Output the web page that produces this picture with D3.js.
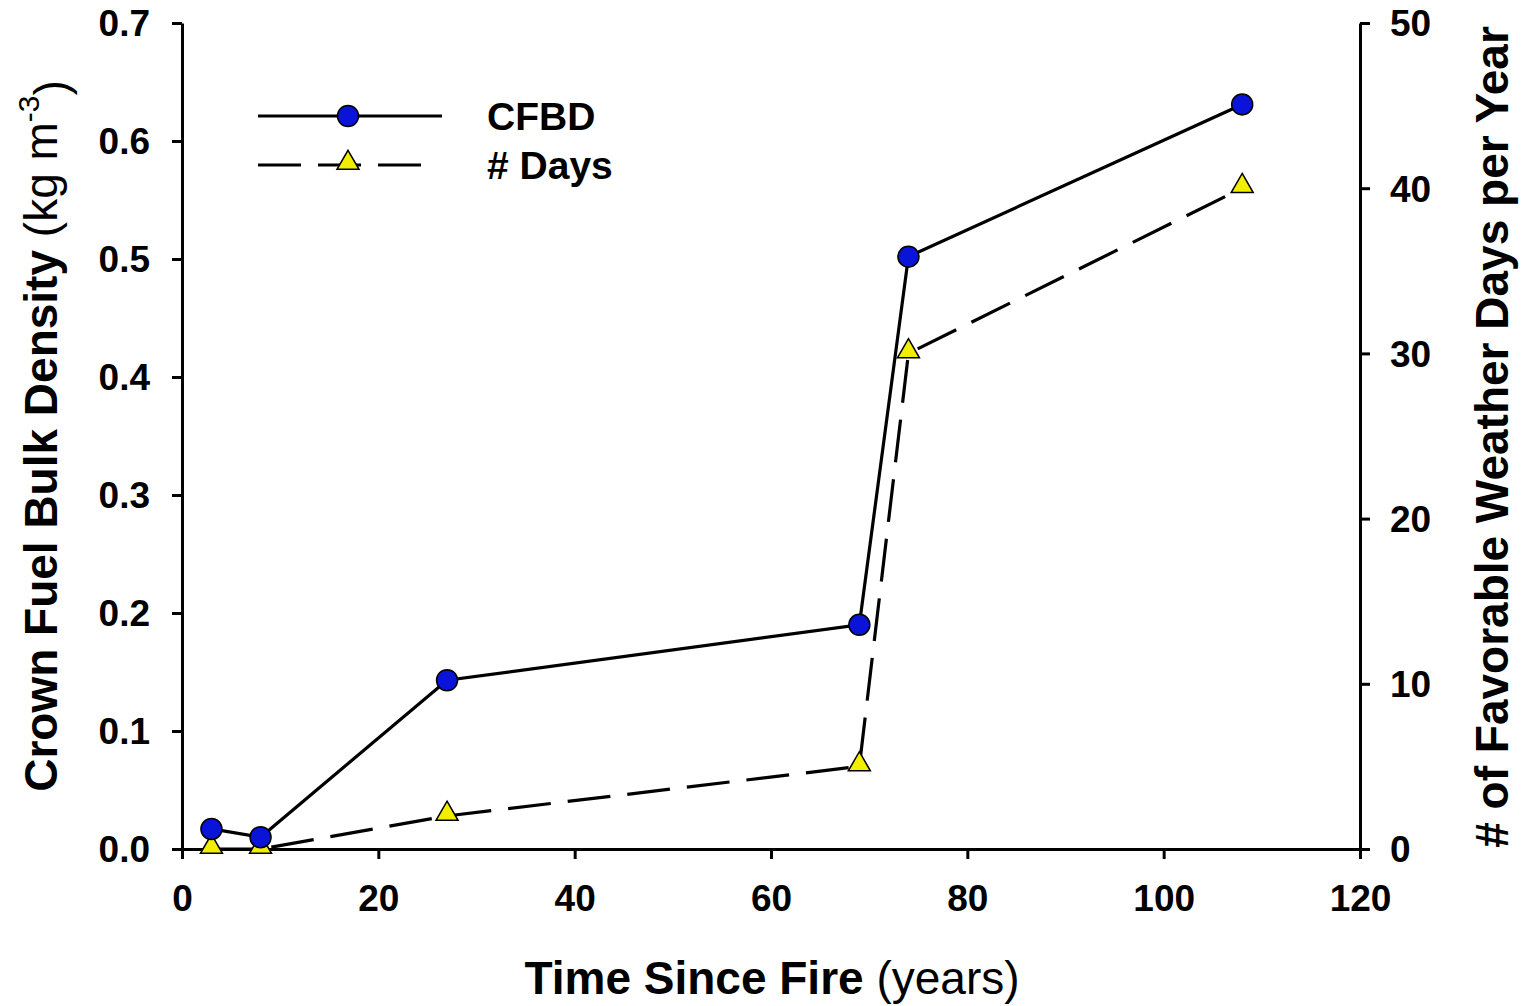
<!DOCTYPE html>
<html>
<head>
<meta charset="utf-8">
<script src="https://cdn.jsdelivr.net/npm/d3@7"></script>
<style>
  html, body { margin: 0; padding: 0; background: #fff; }
  svg { display: block; }
  text { font-family: "Liberation Sans", Arial, sans-serif; fill: #000; }
</style>
</head>
<body>
<script>
// Time since fire (years) for each sampled stand
const years = [3, 8, 27, 69, 74, 108];
// Crown fuel bulk density, kg m^-3
const cfbd = [0.017, 0.010, 0.143, 0.190, 0.502, 0.631];
// Number of favorable weather days per year
const favDays = [0, 0, 2, 5, 30, 40];

const xTicks = [0, 20, 40, 60, 80, 100, 120];
const leftTicks = [0.0, 0.1, 0.2, 0.3, 0.4, 0.5, 0.6, 0.7];
const rightTicks = [0, 10, 20, 30, 40, 50];

const W = 1524, H = 1006;
const margin = { left: 182, right: W - 1360, top: 23, bottom: H - 849 };

const svg = d3.select("body").append("svg")
  .attr("width", W).attr("height", H);

const x = d3.scaleLinear().domain([0, 120]).range([margin.left, W - margin.right]);
const yL = d3.scaleLinear().domain([0, 0.7]).range([H - margin.bottom, margin.top]);
const yR = d3.scaleLinear().domain([0, 50]).range([H - margin.bottom, margin.top]);

const tickFont = "37px";
const titleFont = "46px";

function styleAxis(g) {
  g.selectAll("path").attr("stroke", "#000").attr("stroke-width", 3);
  g.selectAll("line").attr("stroke", "#000").attr("stroke-width", 3);
  g.selectAll("text")
    .style("font-size", tickFont)
    .style("font-weight", "bold")
    .attr("fill", "#000");
}

// Bottom axis
const gx = svg.append("g")
  .attr("transform", `translate(0,${H - margin.bottom})`)
  .call(d3.axisBottom(x).tickValues(xTicks).tickSize(10).tickPadding(26).tickSizeOuter(0)
    .tickFormat(d3.format("d")));
styleAxis(gx);

// Left axis
const gl = svg.append("g")
  .attr("transform", `translate(${margin.left},0)`)
  .call(d3.axisLeft(yL).tickValues(leftTicks).tickSize(10).tickPadding(22).tickSizeOuter(0)
    .tickFormat(d3.format(".1f")));
styleAxis(gl);
gl.selectAll(".tick text").attr("dy", "0.35em");

// Right axis
const gr = svg.append("g")
  .attr("transform", `translate(${W - margin.right},0)`)
  .call(d3.axisRight(yR).tickValues(rightTicks).tickSize(10).tickPadding(20).tickSizeOuter(0)
    .tickFormat(d3.format("d")));
styleAxis(gr);
gr.selectAll(".tick text").attr("dy", "0.35em");

// Series lines
const cfbdPts = years.map((t, i) => [x(t), yL(cfbd[i])]);
const dayPts = years.map((t, i) => [x(t), yR(favDays[i])]);
const line = d3.line();

svg.append("path").attr("d", line(dayPts))
  .attr("fill", "none").attr("stroke", "#000").attr("stroke-width", 3.2)
  .attr("stroke-dasharray", "43,17");

svg.append("path").attr("d", line(cfbdPts))
  .attr("fill", "none").attr("stroke", "#000").attr("stroke-width", 3.2);

// Markers
const tri = d3.symbol().type(d3.symbolTriangle).size(210);

svg.selectAll(".tri").data(dayPts).enter().append("path")
  .attr("class", "tri")
  .attr("d", tri)
  .attr("transform", d => `translate(${d[0]},${d[1] - 2})`)
  .attr("fill", "#f2ee00").attr("stroke", "#000").attr("stroke-width", 1.5);

svg.selectAll(".dot").data(cfbdPts).enter().append("circle")
  .attr("class", "dot")
  .attr("cx", d => d[0]).attr("cy", d => d[1]).attr("r", 10.5)
  .attr("fill", "#0a14d8").attr("stroke", "#000").attr("stroke-width", 1.5);

// Legend
const leg = svg.append("g");
leg.append("line").attr("x1", 258).attr("x2", 442).attr("y1", 116).attr("y2", 116)
  .attr("stroke", "#000").attr("stroke-width", 3.2);
leg.append("circle").attr("cx", 348).attr("cy", 116).attr("r", 10.5)
  .attr("fill", "#0a14d8").attr("stroke", "#000").attr("stroke-width", 1.5);
leg.append("text").attr("x", 487).attr("y", 116).attr("dy", "0.36em")
  .style("font-size", "39px").style("font-weight", "bold").text("CFBD");

leg.append("line").attr("x1", 258).attr("x2", 424).attr("y1", 165).attr("y2", 165)
  .attr("stroke", "#000").attr("stroke-width", 3.2).attr("stroke-dasharray", "43,17");
leg.append("path").attr("d", tri).attr("transform", "translate(348,163)")
  .attr("fill", "#f2ee00").attr("stroke", "#000").attr("stroke-width", 1.5);
leg.append("text").attr("x", 487).attr("y", 165).attr("dy", "0.36em")
  .style("font-size", "39px").style("font-weight", "bold").text("# Days");

// Axis titles
const xt = svg.append("text").attr("x", 772).attr("y", 994)
  .attr("text-anchor", "middle").style("font-size", titleFont);
xt.append("tspan").style("font-weight", "bold").text("Time Since Fire");
xt.append("tspan").text(" (years)");

const lt = svg.append("text")
  .attr("transform", "translate(57,436) rotate(-90)")
  .attr("text-anchor", "middle").style("font-size", titleFont);
lt.append("tspan").style("font-weight", "bold").text("Crown Fuel Bulk Density");
lt.append("tspan").text(" (kg m");
lt.append("tspan").attr("dy", "-0.6em").style("font-size", "30px").text("-3");
lt.append("tspan").attr("dy", "0.6em").text(")");

svg.append("text")
  .attr("transform", "translate(1508,437) rotate(-90)")
  .attr("text-anchor", "middle").style("font-size", titleFont).style("font-weight", "bold")
  .text("# of Favorable Weather Days per Year");
</script>
</body>
</html>
